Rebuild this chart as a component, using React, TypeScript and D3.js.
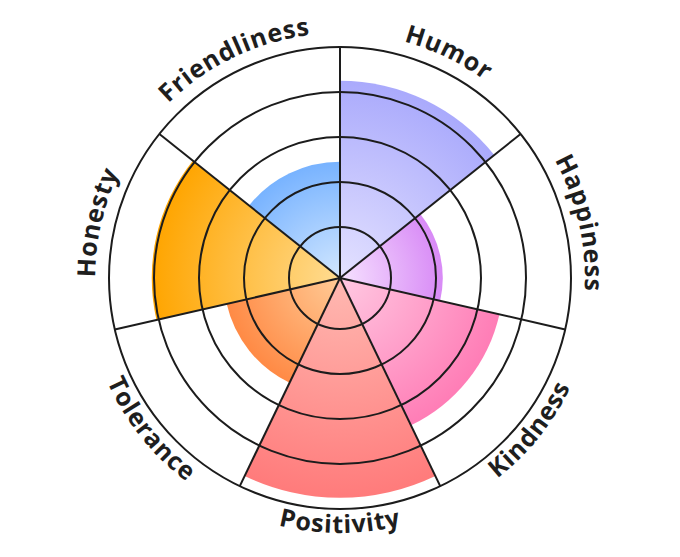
import React from 'react';
import * as d3 from 'd3';

// polar area chart: one wedge per trait, radius = score
const categories = ['Humor', 'Happiness', 'Kindness', 'Positivity', 'Tolerance', 'Honesty', 'Friendliness'];
const scores = [85, 43, 70, 95, 49, 81, 49];
const centerColors = ['#e4e2ff', '#f6e2ff', '#ffc9e2', '#ffb9b2', '#ffcb96', '#ffdc92', '#d2e7ff'];
const edgeColors = ['#aaaafc', '#d88af6', '#ff7db6', '#ff7b7b', '#ff8a45', '#ffa500', '#78b3ff'];
const ringTicks = [20, 40, 60, 80, 100];

const width = 680;
const height = 557;
const cx = 340;
const cy = 278;
const outerR = 231;

const App: React.FC = () => {
  const rScale = d3.scaleLinear().domain([0, 100]).range([6, outerR]);
  const step = (Math.PI * 2) / categories.length;

  const arc = d3.arc<number>()
    .innerRadius(0)
    .outerRadius((d) => rScale(d))
    .startAngle((_, i) => i * step)
    .endAngle((_, i) => (i + 1) * step);

  const pt = (a: number, r: number) => [r * Math.sin(a), -r * Math.cos(a)];

  // arc path used for curved labels
  const labelPath = (i: number) => {
    const mid = (i + 0.5) * step;
    const top = Math.cos(mid) > 0;
    if (top) {
      const r = 245;
      const [x0, y0] = pt(mid - Math.PI / 2, r);
      const [x1, y1] = pt(mid + Math.PI / 2, r);
      return `M${x0},${y0} A${r},${r} 0 0 1 ${x1},${y1}`;
    }
    const r = 255;
    const [x0, y0] = pt(mid + Math.PI / 2, r);
    const [x1, y1] = pt(mid - Math.PI / 2, r);
    return `M${x0},${y0} A${r},${r} 0 0 0 ${x1},${y1}`;
  };

  return (
    <svg
      width={width}
      height={height}
      style={{ position: 'absolute', left: 0, top: 0, display: 'block', background: '#fff' }}
    >
      <defs>
        {scores.map((v, i) => (
          <radialGradient key={i} id={`grad-${i}`} gradientUnits="userSpaceOnUse" cx={0} cy={0} r={rScale(v)}>
            <stop offset="0%" stopColor={centerColors[i]} />
            <stop offset="100%" stopColor={edgeColors[i]} />
          </radialGradient>
        ))}
        {categories.map((_, i) => (
          <path key={i} id={`label-${i}`} d={labelPath(i)} fill="none" />
        ))}
      </defs>
      <g transform={`translate(${cx},${cy})`}>
        {scores.map((v, i) => (
          <path key={i} d={arc(v, i) || ''} fill={`url(#grad-${i})`} />
        ))}

        {ringTicks.map((t) => (
          <circle key={t} r={rScale(t)} fill="none" stroke="#1c1c1c" strokeWidth={2} />
        ))}
        {categories.map((_, i) => {
          const [x, y] = pt(i * step, outerR);
          return <line key={i} x1={0} y1={0} x2={x} y2={y} stroke="#1c1c1c" strokeWidth={2} />;
        })}
        <circle r={2} fill="#1c1c1c" />

        {categories.map((c, i) => (
          <text
            key={c}
            fontFamily="'Open Sans', sans-serif"
            fontWeight={700}
            fontSize={25}
            fill="#1e1e1e"
            letterSpacing={0.8}
          >
            <textPath href={`#label-${i}`} startOffset="50%" textAnchor="middle">
              {c}
            </textPath>
          </text>
        ))}
      </g>
    </svg>
  );
};

export default App;
